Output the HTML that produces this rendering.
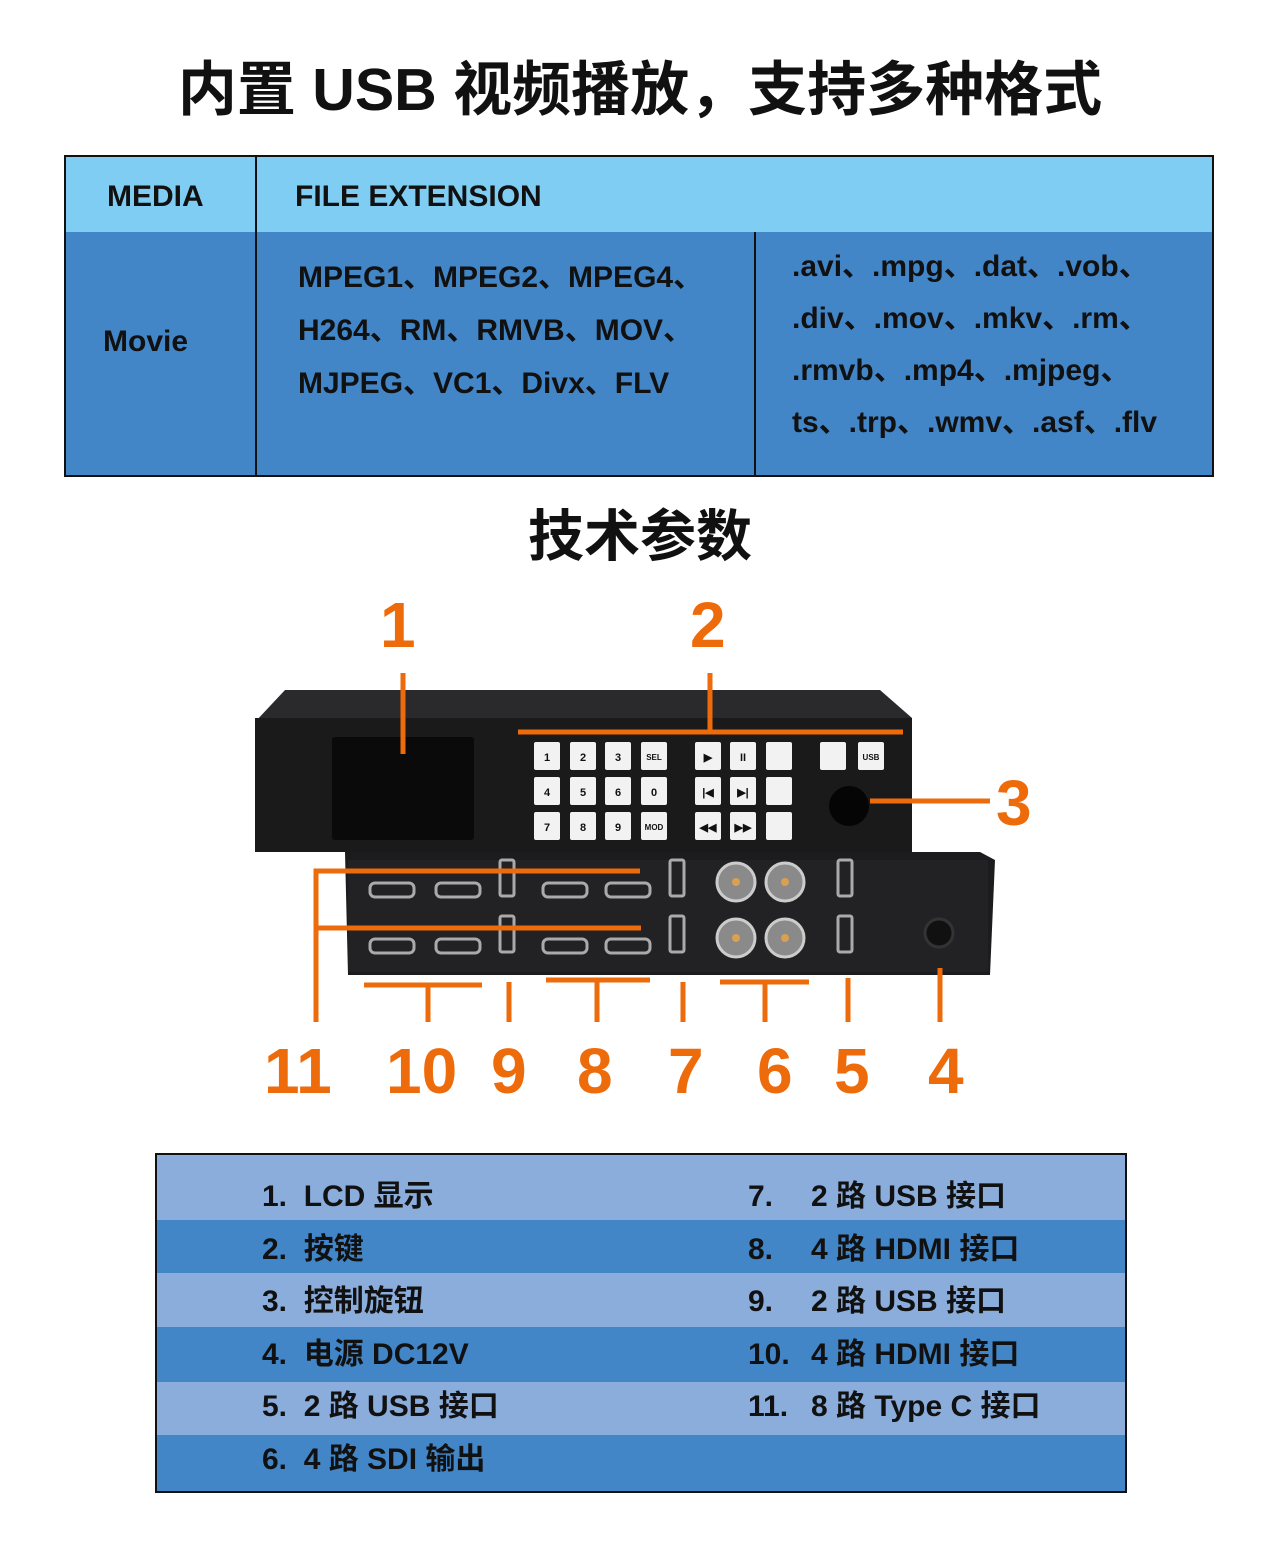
<!DOCTYPE html>
<html><head><meta charset="utf-8"><style>
body{margin:0;width:1280px;height:1555px;background:#fff;position:relative;overflow:hidden;font-family:"Liberation Sans","Noto Sans CJK SC",sans-serif;font-weight:bold;color:#111}
.a{position:absolute;white-space:nowrap}
.t{font-size:30px}
.o{color:#ee6b0c;font-size:64px;font-family:"Liberation Sans",sans-serif}
</style></head><body>
<div class="a" style="left:0;width:1280px;top:42px;text-align:center;font-size:59px;letter-spacing:0px">内置 USB 视频播放，支持多种格式</div>
<div class="a" style="left:64px;top:155px;width:1146px;height:318px;border:2px solid #111;background:#4286c8"></div>
<div class="a" style="left:66px;top:157px;width:1146px;height:75px;background:#7fcdf3"></div>
<div class="a" style="left:255px;top:157px;width:2px;height:318px;background:#111"></div>
<div class="a" style="left:754px;top:232px;width:2px;height:243px;background:#111"></div>
<div class="a t" style="left:107px;top:180px">MEDIA</div>
<div class="a t" style="left:295px;top:180px">FILE EXTENSION</div>
<div class="a t" style="left:103px;top:325px">Movie</div>
<div class="a t" style="left:298px;top:251px;line-height:53px">MPEG1、MPEG2、MPEG4、<br>H264、RM、RMVB、MOV、<br>MJPEG、VC1、Divx、FLV</div>
<div class="a t" style="left:792px;top:241px;line-height:52px">.avi、.mpg、.dat、.vob、<br>.div、.mov、.mkv、.rm、<br>.rmvb、.mp4、.mjpeg、<br>ts、.trp、.wmv、.asf、.flv</div>
<div class="a" style="left:0;width:1280px;top:492px;text-align:center;font-size:56px">技术参数</div>

<svg class="a" style="left:0;top:0" width="1280" height="1555">
<polygon points="345,852 980,852 995,860 990,975 348,975" fill="#1c1c1e"/>
<rect x="348" y="860" width="640" height="112" fill="#222224"/>
<polygon points="285,690 880,690 912,718 255,722" fill="#2a2a2c"/>
<rect x="255" y="718" width="657" height="134" fill="#1a1a1b"/>
<rect x="332" y="737" width="142" height="103" fill="#0a0a0a" rx="3"/>
<g fill="#f2f2f2">
<rect x="534" y="742" width="26" height="28" rx="2"/><rect x="570" y="742" width="26" height="28" rx="2"/><rect x="605" y="742" width="26" height="28" rx="2"/><rect x="641" y="742" width="26" height="28" rx="2"/>
<rect x="534" y="777" width="26" height="28" rx="2"/><rect x="570" y="777" width="26" height="28" rx="2"/><rect x="605" y="777" width="26" height="28" rx="2"/><rect x="641" y="777" width="26" height="28" rx="2"/>
<rect x="534" y="812" width="26" height="28" rx="2"/><rect x="570" y="812" width="26" height="28" rx="2"/><rect x="605" y="812" width="26" height="28" rx="2"/><rect x="641" y="812" width="26" height="28" rx="2"/>
<rect x="695" y="742" width="26" height="28" rx="2"/><rect x="730" y="742" width="26" height="28" rx="2"/><rect x="766" y="742" width="26" height="28" rx="2"/>
<rect x="695" y="777" width="26" height="28" rx="2"/><rect x="730" y="777" width="26" height="28" rx="2"/><rect x="766" y="777" width="26" height="28" rx="2"/>
<rect x="695" y="812" width="26" height="28" rx="2"/><rect x="730" y="812" width="26" height="28" rx="2"/><rect x="766" y="812" width="26" height="28" rx="2"/>
<rect x="820" y="742" width="26" height="28" rx="2"/><rect x="858" y="742" width="26" height="28" rx="2"/>
</g>
<g fill="#111" font-size="11" font-family="Liberation Sans" text-anchor="middle">
<text x="547" y="761">1</text><text x="583" y="761">2</text><text x="618" y="761">3</text><text x="654" y="760" font-size="8">SEL</text>
<text x="547" y="796">4</text><text x="583" y="796">5</text><text x="618" y="796">6</text><text x="654" y="796">0</text>
<text x="547" y="831">7</text><text x="583" y="831">8</text><text x="618" y="831">9</text><text x="654" y="830" font-size="8">MOD</text>
<text x="708" y="761">▶</text><text x="743" y="761">II</text><text x="708" y="796">|◀</text><text x="743" y="796">▶|</text><text x="708" y="831">◀◀</text><text x="743" y="831">▶▶</text>
<text x="871" y="760" font-size="8">USB</text>
</g>
<circle cx="849" cy="806" r="20" fill="#050505"/>
<g fill="none" stroke="#aaa" stroke-width="3">
<rect x="370" y="883" width="44" height="14" rx="5"/><rect x="436" y="883" width="44" height="14" rx="5"/><rect x="543" y="883" width="44" height="14" rx="5"/><rect x="606" y="883" width="44" height="14" rx="5"/>
<rect x="370" y="939" width="44" height="14" rx="5"/><rect x="436" y="939" width="44" height="14" rx="5"/><rect x="543" y="939" width="44" height="14" rx="5"/><rect x="606" y="939" width="44" height="14" rx="5"/>
<rect x="500" y="860" width="14" height="36" rx="2"/><rect x="500" y="916" width="14" height="36" rx="2"/>
<rect x="670" y="860" width="14" height="36" rx="2"/><rect x="670" y="916" width="14" height="36" rx="2"/>
<rect x="838" y="860" width="14" height="36" rx="2"/><rect x="838" y="916" width="14" height="36" rx="2"/>
</g>
<g fill="#8a8a8a" stroke="#ccc" stroke-width="3">
<circle cx="736" cy="882" r="19"/><circle cx="785" cy="882" r="19"/><circle cx="736" cy="938" r="19"/><circle cx="785" cy="938" r="19"/>
</g>
<g fill="#d8a050"><circle cx="736" cy="882" r="4"/><circle cx="785" cy="882" r="4"/><circle cx="736" cy="938" r="4"/><circle cx="785" cy="938" r="4"/></g>
<circle cx="939" cy="933" r="14" fill="#111" stroke="#333" stroke-width="3"/>
<g stroke="#ee6b0c" stroke-width="5" fill="none">
<path d="M403,673V754"/><path d="M710,673V732M518,732H903"/><path d="M870,801H990"/>
<path d="M640,871H316V1022M316,928H641"/>
<path d="M364,985H482M428,985V1022"/><path d="M509,982V1022"/>
<path d="M546,980H650M597,980V1022"/><path d="M683,982V1022"/>
<path d="M720,982H809M765,982V1022"/><path d="M848,978V1022"/><path d="M940,968V1022"/>
</g>
</svg>
<div class="a o" style="left:380px;top:588px">1</div>
<div class="a o" style="left:690px;top:588px">2</div>
<div class="a o" style="left:996px;top:766px">3</div>
<div class="a o" style="left:264px;top:1034px">11</div>
<div class="a o" style="left:386px;top:1034px">10</div>
<div class="a o" style="left:491px;top:1034px">9</div>
<div class="a o" style="left:577px;top:1034px">8</div>
<div class="a o" style="left:668px;top:1034px">7</div>
<div class="a o" style="left:757px;top:1034px">6</div>
<div class="a o" style="left:834px;top:1034px">5</div>
<div class="a o" style="left:928px;top:1034px">4</div>

<div class="a" style="left:155px;top:1153px;width:968px;height:336px;border:2px solid #111;background:#8aaddc"></div>
<div class="a" style="left:157px;top:1220px;width:968px;height:53px;background:#4286c8"></div>
<div class="a" style="left:157px;top:1327px;width:968px;height:55px;background:#4286c8"></div>
<div class="a" style="left:157px;top:1435px;width:968px;height:56px;background:#4286c8"></div>
<div class="a t" style="left:262px;top:1171px;line-height:52.5px">1.&nbsp; LCD 显示<br>2.&nbsp; 按键<br>3.&nbsp; 控制旋钮<br>4.&nbsp; 电源 DC12V<br>5.&nbsp; 2 路 USB 接口<br>6.&nbsp; 4 路 SDI 输出</div>
<div class="a t" style="left:748px;top:1171px;line-height:52.5px">7.<br>8.<br>9.<br>10.<br>11.</div>
<div class="a t" style="left:811px;top:1171px;line-height:52.5px">2 路 USB 接口<br>4 路 HDMI 接口<br>2 路 USB 接口<br>4 路 HDMI 接口<br>8 路 Type C 接口</div>
</body></html>
